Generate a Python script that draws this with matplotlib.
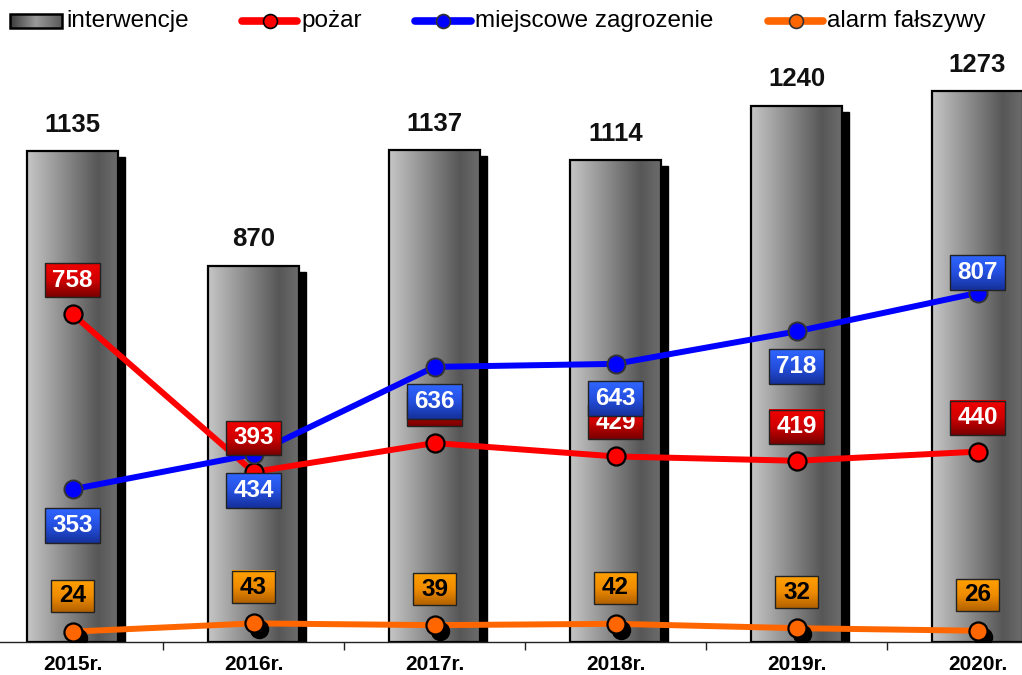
import numpy as np
import matplotlib
matplotlib.use('Agg')
import matplotlib.pyplot as plt
from matplotlib.colors import LinearSegmentedColormap
from matplotlib.patches import Rectangle
from matplotlib.lines import Line2D
import matplotlib.transforms as mtrans

plt.rcParams['font.family'] = ['Liberation Sans', 'DejaVu Sans']

years = ['2015r.', '2016r.', '2017r.', '2018r.', '2019r.', '2020r.']
interwencje = [1135, 870, 1137, 1114, 1240, 1273]
pozar = [758, 393, 460, 429, 419, 440]
miejscowe = [353, 434, 636, 643, 718, 807]
alarm = [24, 43, 39, 42, 32, 26]

series_names = ['interwencje', 'pożar', 'miejscowe zagrozenie', 'alarm fałszywy']

W, H = 1022, 675
fig = plt.figure(figsize=(W / 100, H / 100), dpi=100)
ax = fig.add_axes([-18 / W, 33 / H, 1086 / W, 605.6 / H])
ax.set_xlim(-0.5, 5.5)
ax.set_ylim(0, 1400)

x = np.arange(len(years))
bar_w = 0.5

bar_cmap = LinearSegmentedColormap.from_list(
    'bar', [(0, '#c6c6c6'), (0.78, '#575757'), (1, '#6c6c6c')])
grad_h = np.linspace(0, 1, 256).reshape(1, -1)
grad_v = np.linspace(0, 1, 64).reshape(-1, 1)

red_cmap = LinearSegmentedColormap.from_list('r', ['#f00000', '#d00000', '#7a0000'])
blue_cmap = LinearSegmentedColormap.from_list('b', ['#2f66ff', '#2550e0', '#14309a'])
orange_cmap = LinearSegmentedColormap.from_list('o', ['#ffa000', '#f08c00', '#b36200'])

# bars with shadow + gradient
shadow_tr = mtrans.offset_copy(ax.transData, fig=fig, x=7, y=-6, units='dots')
for xi, v in zip(x, interwencje):
    ax.add_patch(Rectangle((xi - bar_w / 2, 0), bar_w, v, facecolor='black',
                           edgecolor='black', transform=shadow_tr, zorder=1, clip_on=True))
    ax.imshow(grad_h, cmap=bar_cmap, aspect='auto',
              extent=[xi - bar_w / 2, xi + bar_w / 2, 0, v], zorder=2,
              interpolation='bilinear')
    ax.add_patch(Rectangle((xi - bar_w / 2, 0), bar_w, v, facecolor='none',
                           edgecolor='black', linewidth=1.6, zorder=3))
    ax.annotate(f'{v}', (xi, v), xytext=(0, 19), textcoords='offset points',
                ha='center', va='center', fontsize=18.5, fontweight='bold',
                color='#111111', zorder=10)

ax.set_xlim(-0.5, 5.5)
ax.set_ylim(0, 1400)

# lines
ax.plot(x, alarm, color='#ff6600', lw=4.3, zorder=4, solid_capstyle='round')
mk_shadow = mtrans.offset_copy(ax.transData, fig=fig, x=5, y=-6, units='dots')
ax.plot(x, alarm, 'o', color='black', ms=13, transform=mk_shadow, zorder=4.5)
ax.plot(x, alarm, 'o', color='#ff6600', ms=13, mec='black', mew=1.6, zorder=5)
ax.plot(x, pozar, color='#ff0000', lw=4.3, zorder=4, marker='o', ms=13,
        mfc='#ff0000', mec='black', mew=1.6)
ax.plot(x, miejscowe, color='#0000ff', lw=4.3, zorder=4.2, marker='o', ms=13,
        mfc='#0000ff', mec='#333333', mew=1.4)

inv = ax.transData.inverted()


def label_box(xv, yv, dy_px, w_px, h_px, cmap, text, tcolor, z):
    px, py = ax.transData.transform((xv, yv))
    cy = py + dy_px
    (x0, y0) = inv.transform((px - w_px / 2, cy - h_px / 2))
    (x1, y1) = inv.transform((px + w_px / 2, cy + h_px / 2))
    ax.imshow(grad_v, cmap=cmap, aspect='auto', extent=[x0, x1, y0, y1],
              zorder=z, interpolation='bilinear', origin='upper')
    ax.add_patch(Rectangle((x0, y0), x1 - x0, y1 - y0, facecolor='none',
                           edgecolor='#222222', linewidth=1.0, zorder=z + 0.01))
    xc, yc = inv.transform((px, cy))
    ax.text(xc, yc, text, ha='center', va='center', fontsize=17.5,
            fontweight='bold', color=tcolor, zorder=z + 0.02)


red_dy = [34, 34, 34, 34, 34, 34]
blue_dy = [-36, -36, -35, -35, -35, 20]
orange_dy = [36, 36, 36, 36, 36, 36]

for i in range(len(x)):
    label_box(x[i], pozar[i], red_dy[i], 55, 34, red_cmap, f'{pozar[i]}', 'white', 6 + i * 0.001)
for i in range(len(x)):
    label_box(x[i], miejscowe[i], blue_dy[i], 55, 35, blue_cmap, f'{miejscowe[i]}', 'white', 7 + i * 0.001)
for i in range(len(x)):
    label_box(x[i], alarm[i], orange_dy[i], 43, 32, orange_cmap, f'{alarm[i]}', 'black', 8 + i * 0.001)

ax.set_xlim(-0.5, 5.5)
ax.set_ylim(0, 1400)

# axes styling
for s in ['left', 'right', 'top']:
    ax.spines[s].set_visible(False)
ax.spines['bottom'].set_color('#222222')
ax.spines['bottom'].set_linewidth(1.0)
ax.spines['bottom'].set_zorder(3.5)
ax.set_yticks([])
ax.set_xticks(x)
ax.set_xticklabels(years, fontsize=15, fontweight='bold')
ax.tick_params(axis='x', which='major', length=0, pad=9)
ax.set_xticks(np.arange(0.5, 5.5, 1.0), minor=True)
ax.tick_params(axis='x', which='minor', length=6, width=1, color='#222222', direction='out')
ax.patch.set_alpha(0)

# legend (overlay axes in pixel coordinates)
lg = fig.add_axes([0, 0, 1, 1], zorder=20)
lg.set_xlim(0, W)
lg.set_ylim(H, 0)
lg.axis('off')
lg.patch.set_alpha(0)
leg_y = 21
icon_cmap = LinearSegmentedColormap.from_list('ic', ['#3a3a3a', '#9a9a9a', '#5a5a5a'])
lg.imshow(grad_h, cmap=icon_cmap, aspect='auto', extent=[10, 62, leg_y + 7, leg_y - 7],
          interpolation='bilinear')
lg.add_patch(Rectangle((10, leg_y - 7), 52, 14, facecolor='none', edgecolor='black', lw=1.8))
lg.text(66, leg_y, series_names[0], ha='left', va='center', fontsize=17.5)
lg.set_xlim(0, W)
lg.set_ylim(H, 0)

leg_items = [(242, 297, '#ff0000', 'black', series_names[1]),
             (415, 471, '#0000ff', '#333333', series_names[2]),
             (768, 823, '#ff6600', '#333333', series_names[3])]
for x0, x1, c, ec, name in leg_items:
    lg.add_line(Line2D([x0, x1], [leg_y, leg_y], color=c, lw=5.5, solid_capstyle='round'))
    lg.add_line(Line2D([(x0 + x1) / 2], [leg_y], marker='o', ms=10, mfc=c, mec=ec, mew=1.2))
    lg.text(x1 + 4, leg_y, name, ha='left', va='center', fontsize=17.5)

fig.savefig('out.png', dpi=100)
